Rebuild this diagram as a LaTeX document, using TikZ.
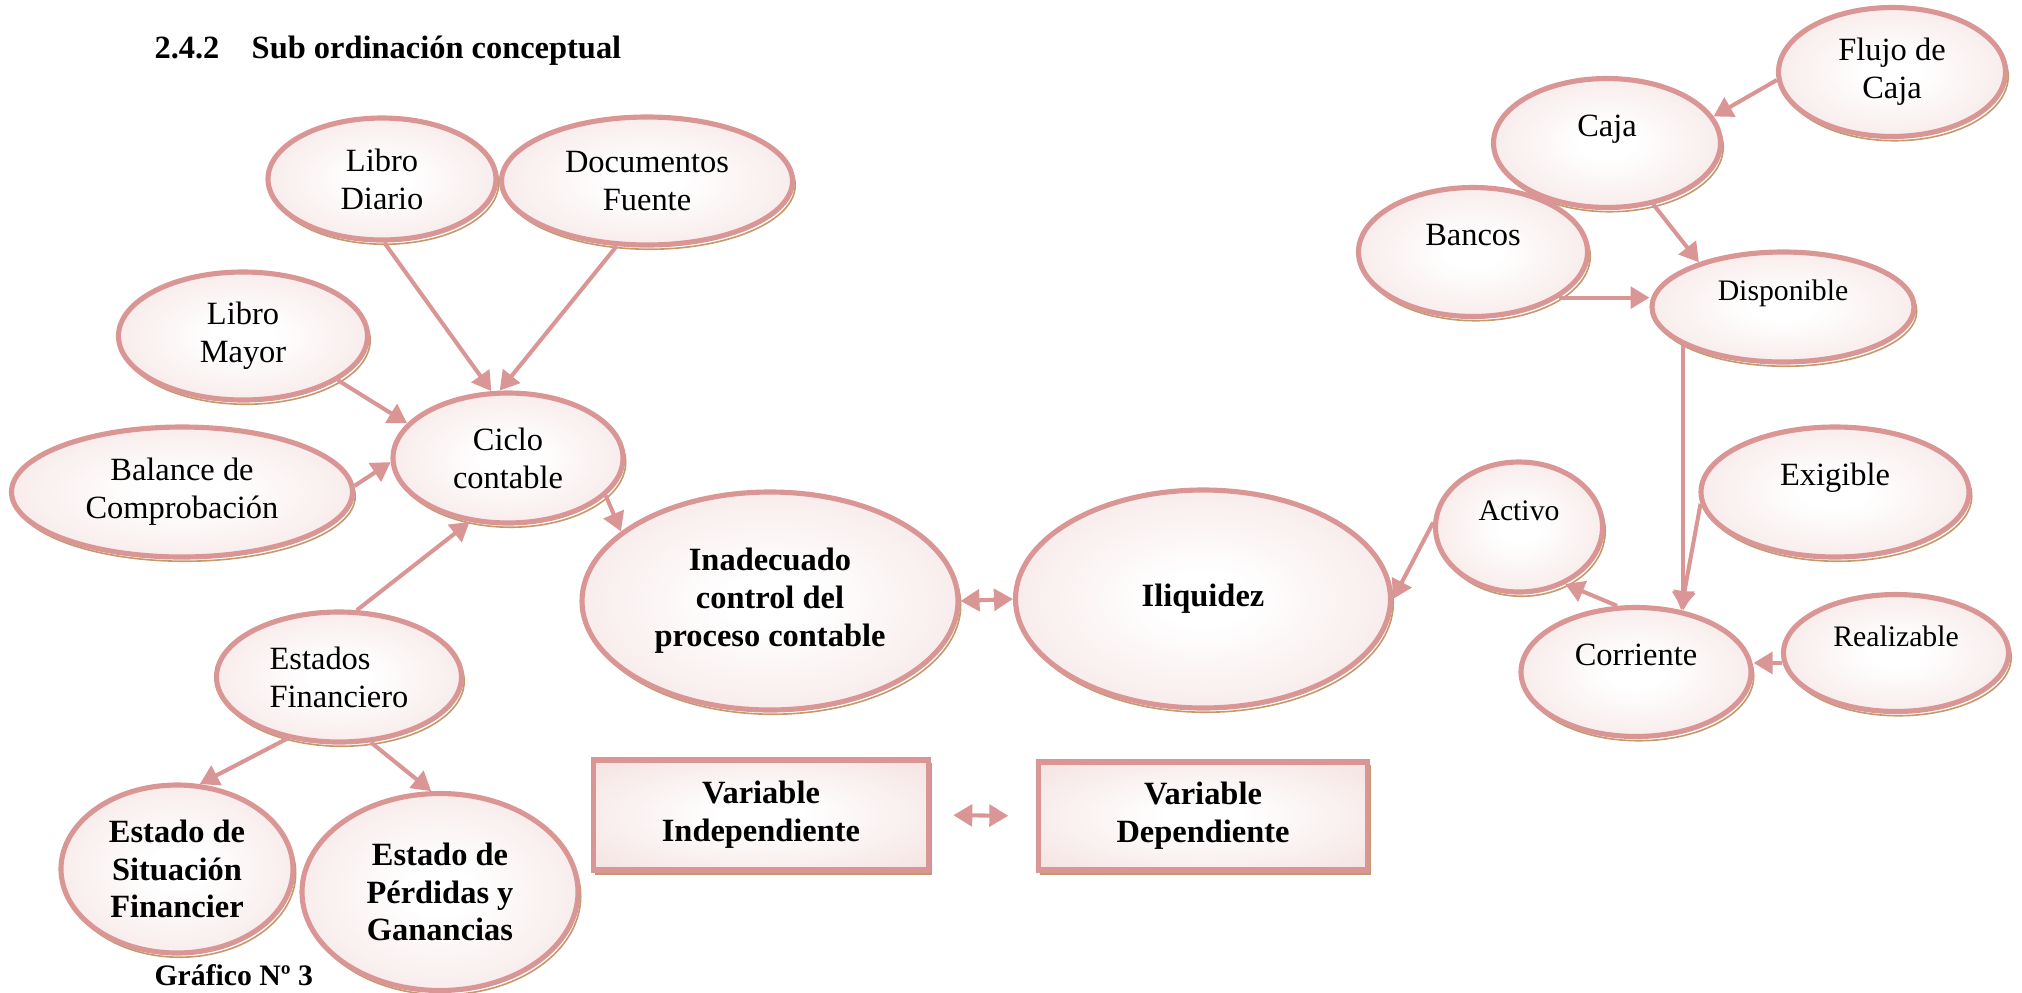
\documentclass[tikz,border=0pt]{standalone}
\usepackage{fontspec}
\setmainfont{Liberation Serif}
\usetikzlibrary{shapes.geometric, shadows, arrows.meta}
\definecolor{roseline}{HTML}{D99694}
\definecolor{rosefill}{HTML}{F2DCDB}
\definecolor{shadowtan}{HTML}{C49A6C}
\pgfdeclareradialshading{roseshade}{\pgfpoint{0bp}{0bp}}{color(0bp)=(white); color(6bp)=(white); color(42bp)=(rosefill); color(100bp)=(rosefill)}

\begin{document}
\begin{tikzpicture}[x=0.013cm, y=-0.013cm,
  sz/.style 2 args={minimum width=#1*0.013cm, minimum height=#2*0.013cm},
  tanshadow/.style={general shadow={shadow xshift=0.035cm, shadow yshift=-0.055cm, fill=white, draw=shadowtan, line width=0.6pt}},
  concept/.style={ellipse, draw=roseline, line width=1.9pt, shading=roseshade, inner sep=0pt, align=center, font=\fontsize{12}{14}\selectfont, tanshadow},
  keyconcept/.style={concept, font=\fontsize{12}{14}\selectfont\bfseries},
  varbox/.style={rectangle, draw=roseline, line width=1.9pt, shading=roseshade, inner sep=0pt, align=center, font=\fontsize{12}{14}\selectfont\bfseries, tanshadow},
  oneline/.style={text height=8pt, text depth=12.5pt},
  smalltext/.style={font=\fontsize{11}{13}\selectfont},
  arr/.style={draw=roseline, line width=1.5pt, -{Triangle[length=7pt,width=8pt]}},
  dbl/.style={draw=roseline, line width=1.5pt, {Triangle[length=7pt,width=8pt]}-{Triangle[length=7pt,width=8pt]}}]
\useasboundingbox (0,0) rectangle (2022,992);

\node[anchor=base west, font=\fontsize{12}{14}\selectfont\bfseries] (title) at (145,58) {2.4.2\hspace{0.42cm}Sub ordinación conceptual};
\node[anchor=base west, font=\fontsize{11}{13}\selectfont\bfseries] (grafico) at (145,985) {Gráfico Nº 3};

% left branch
\node[concept, sz={228}{122}] (ld) at (382,179) {Libro\\Diario};
\node[concept, sz={291}{128}] (df) at (647,181) {Documentos\\Fuente};
\node[concept, sz={249}{128}] (lm) at (243,336) {Libro\\Mayor};
\node[concept, sz={341}{130}] (bc) at (182,492) {Balance de\\Comprobación};
\node[concept, sz={230}{130}] (cc) at (508,458) {Ciclo\\contable};
\node[concept, sz={245}{130}, align=left] (ef) at (339,677) {Estados\\Financiero};
\node[keyconcept, sz={232}{168}] (es) at (177,869) {Estado de\\Situación\\Financier};
\node[keyconcept, sz={276}{197}] (ep) at (440,892) {Estado de\\Pérdidas y\\Ganancias};

% centre
\node[keyconcept, sz={376}{218}] (ic) at (770,601) {Inadecuado\\control del\\proceso contable};
\node[keyconcept, sz={375}{218}] (il) at (1203,599) {Iliquidez};
\node[varbox, sz={335}{110}] (vi) at (761,815) {Variable\\Independiente};
\node[varbox, sz={329}{108}] (vd) at (1203,816) {Variable\\Dependiente};

% right branch
\node[concept, sz={227}{129}] (fc) at (1892,72) {Flujo de\\Caja};
\node[concept, oneline, sz={227}{129}] (cj) at (1607,143) {Caja};
\node[concept, oneline, sz={229}{129}] (bn) at (1473,252) {Bancos};
\node[concept, oneline, smalltext, sz={262}{110}] (dp) at (1783,307) {Disponible};
\node[concept, oneline, sz={268}{130}] (ex) at (1835,492) {Exigible};
\node[concept, oneline, smalltext, sz={167}{130}] (ac) at (1519,527) {Activo};
\node[concept, oneline, sz={230}{129}] (co) at (1636,672) {Corriente};
\node[concept, oneline, smalltext, sz={225}{117}] (re) at (1896,653) {Realizable};

\draw[arr] (ld.-88) -- (cc.104);
\draw[arr] (df.-115) -- (cc.97);
\draw[arr] (lm.-25) -- (cc.161);
\draw[arr] (bc.2) -- (cc.-178);
\draw[arr] (ef.75) -- (cc.-121);
\draw[arr] (cc.-21) -- (ic.155);
\draw[arr] (ef.-130) -- (es.75);
\draw[arr] (ef.-64) -- (ep.95);
\draw[dbl] (ic.east) -- (il.west);
\draw[dbl, shorten <=0.29cm, shorten >=0.36cm] (vi.east) -- (vd.west);

\draw[arr] (fc.-176) -- (cj.14);
\draw[arr] (cj.-53) -- (dp.152);
\draw[arr] (bn.-28) -- (bn.-28 -| dp.west);
\draw[arr] (dp.-159) -- (dp.-159 |- co.53);
\draw[arr] (ex.-175) -- (co.54);
\draw[arr] (re.185) -- (re.185 -| co.east);
\draw[arr] (co.106) -- (ac.-51);
\draw[arr] (ac.177) -- (il.east);
\end{tikzpicture}
\end{document}
